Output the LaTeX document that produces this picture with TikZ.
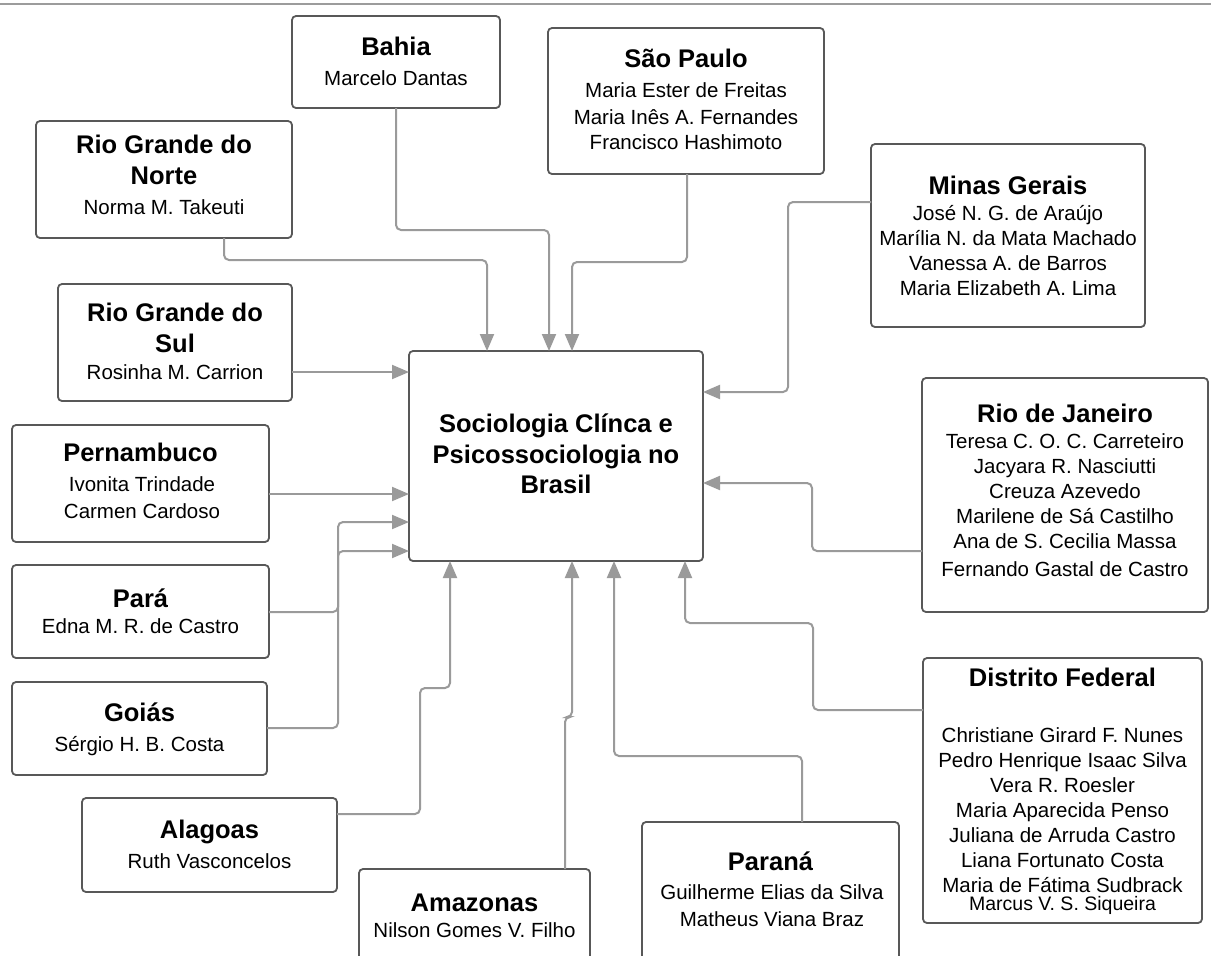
\documentclass[tikz,border=0pt]{standalone}
\usepackage{fontspec}
\setmainfont{Liberation Sans}
\usetikzlibrary{arrows.meta}

\definecolor{boxline}{HTML}{585858}
\definecolor{wiregray}{HTML}{9A9A9A}
\definecolor{rulegray}{HTML}{9C9C9C}

\tikzset{
  statebox/.style={draw=boxline, line width=1.8pt, rounded corners=4pt, fill=white,
    inner sep=0pt, outer sep=0pt},
  ttl/.style={anchor=base, inner sep=0pt, font=\fontsize{25.5}{30}\selectfont\bfseries},
  nm/.style={anchor=base, inner sep=0pt, font=\fontsize{20.5}{25}\selectfont},
  nmsmall/.style={anchor=base, inner sep=0pt, font=\fontsize{19.5}{22}\selectfont},
  link/.style={draw=wiregray, line width=2pt, rounded corners=5pt,
    -{Triangle[length=17pt,width=14pt,fill=wiregray]}},
}

% one bold node per title line, one regular node per name line: {name}{x}{y/text,...}
\newcommand\titlelines[3]{\foreach \by/\txt [count=\k] in {#3} {\node[ttl] (#1-t\k) at (#2,\by) {\txt};}}
\newcommand\namelines[3]{\foreach \by/\txt [count=\k] in {#3} {\node[nm] (#1-n\k) at (#2,\by) {\txt};}}

\begin{document}
\begin{tikzpicture}[x=1pt, y=-1pt]
  \clip (0,0) rectangle (1211,956);
  \fill[white] (0,0) rectangle (1211,956);

  % rule along the top edge
  \draw[rulegray, line width=2.5pt] (0,4) -- (1211,4);

  % boxes
  \node[statebox, minimum width=294pt, minimum height=210pt] (ctr)   at (556,456) {};
  \node[statebox, minimum width=208pt, minimum height=92pt]  (bahia) at (396,62) {};
  \node[statebox, minimum width=256pt, minimum height=117pt] (rgn)   at (164,179.5) {};
  \node[statebox, minimum width=276pt, minimum height=146pt] (sp)    at (686,101) {};
  \node[statebox, minimum width=274pt, minimum height=183pt] (mg)    at (1008,235.5) {};
  \node[statebox, minimum width=234pt, minimum height=117pt] (rgs)   at (175,342.5) {};
  \node[statebox, minimum width=257pt, minimum height=117pt] (pe)    at (140.5,483.5) {};
  \node[statebox, minimum width=286pt, minimum height=234pt] (rj)    at (1065,495) {};
  \node[statebox, minimum width=257pt, minimum height=93pt]  (pa)    at (140.5,611.5) {};
  \node[statebox, minimum width=279pt, minimum height=265pt] (df)    at (1062.5,790.5) {};
  \node[statebox, minimum width=255pt, minimum height=93pt]  (go)    at (139.5,728.5) {};
  \node[statebox, minimum width=255pt, minimum height=94pt]  (al)    at (209.5,845) {};
  \node[statebox, minimum width=231pt, minimum height=121pt] (am)    at (474.5,929.5) {};
  \node[statebox, minimum width=257pt, minimum height=168pt] (pr)    at (770.5,906) {};

  % texts
  \titlelines{ctr}{556}{432/Sociologia Clínca e, 463/Psicossociologia no, 493/Brasil}

  \titlelines{bahia}{396}{55/Bahia}
  \namelines{bahia}{396}{85/Marcelo Dantas}

  \titlelines{rgn}{164}{153/Rio Grande do, 184/Norte}
  \namelines{rgn}{164}{214/Norma M. Takeuti}

  \titlelines{sp}{686}{67/São Paulo}
  \namelines{sp}{686}{97/Maria Ester de Freitas, 124/Maria Inês A. Fernandes, 149/Francisco Hashimoto}

  \titlelines{mg}{1008}{194/Minas Gerais}
  \namelines{mg}{1008}{220/José N. G. de Araújo, 245/Marília N. da Mata Machado,
    270/Vanessa A. de Barros, 295/Maria Elizabeth A. Lima}

  \titlelines{rgs}{175}{321/Rio Grande do, 352/Sul}
  \namelines{rgs}{175}{379/Rosinha M. Carrion}

  \titlelines{pe}{140.5}{461/Pernambuco}
  \namelines{pe}{142}{491/Ivonita Trindade, 518/Carmen Cardoso}

  \titlelines{rj}{1065}{422/Rio de Janeiro}
  \namelines{rj}{1065}{448/Teresa C. O. C. Carreteiro, 473/Jacyara R. Nasciutti,
    498/Creuza Azevedo, 523/Marilene de Sá Castilho, 548/Ana de S. Cecilia Massa,
    576/Fernando Gastal de Castro}

  \titlelines{pa}{140.5}{607/Pará}
  \namelines{pa}{140.5}{633/Edna M. R. de Castro}

  \titlelines{df}{1062.5}{686/Distrito Federal}
  \namelines{df}{1062.5}{742/Christiane Girard F. Nunes, 767/Pedro Henrique Isaac Silva,
    792/Vera R. Roesler, 817/Maria Aparecida Penso, 842/Juliana de Arruda Castro,
    867/Liana Fortunato Costa, 892/Maria de Fátima Sudbrack}
  \node[nmsmall] (df-n8) at (1062.5,910) {Marcus V. S. Siqueira};

  \titlelines{go}{139.5}{721/Goiás}
  \namelines{go}{139.5}{751/Sérgio H. B. Costa}

  \titlelines{al}{209.5}{838/Alagoas}
  \namelines{al}{209.5}{868/Ruth Vasconcelos}

  \titlelines{am}{474.5}{911/Amazonas}
  \namelines{am}{474.5}{937/Nilson Gomes V. Filho}

  \titlelines{pr}{770.5}{870/Paraná}
  \namelines{pr}{772}{899/Guilherme Elias da Silva, 926/Matheus Viana Braz}

  % connectors into the central box
  \draw[link] ([xshift=60pt]rgn.south) -- ++(0,22) -| ([xshift=-69pt]ctr.north);
  \draw[link] (bahia.south) -- ++(0,122) -| ([xshift=-7pt]ctr.north);
  \draw[link] ([xshift=1pt]sp.south) -- ++(0,88) -| ([xshift=16pt]ctr.north);
  \draw[link] ([yshift=33.5pt]mg.west) -- ++(-83,0) |- ([yshift=64pt]ctr.east);
  \draw[link] ([yshift=-29.5pt]rgs.east) -- ([yshift=84pt]ctr.west);
  \draw[link] ([yshift=-10.5pt]pe.east) -- ([yshift=-38pt]ctr.west);
  \draw[link] ([yshift=0.5pt]go.east) -- ++(71,0) |- ([yshift=-66pt]ctr.west);
  \draw[link] ([yshift=-0.5pt]pa.east) -- ++(69,0) |- ([yshift=-95pt]ctr.west);
  \draw[link] ([yshift=-56pt]rj.west) -- ++(-110,0) |- ([yshift=-27pt]ctr.east);
  \draw[link] ([yshift=31pt]al.east) -- ++(83,0) -- ++(0,-126) -| ([xshift=-106pt]ctr.south);
  \draw[link] ([xshift=90.5pt]am.north) -- ++(0,-152) -| ([xshift=16pt]ctr.south);
  \draw[link] ([xshift=31.5pt]pr.north) -- ++(0,-66) -| ([xshift=58pt]ctr.south);
  \draw[link] ([yshift=80.5pt]df.west) -- ++(-110,0) -- ++(0,-87) -| ([xshift=129pt]ctr.south);
\end{tikzpicture}
\end{document}
